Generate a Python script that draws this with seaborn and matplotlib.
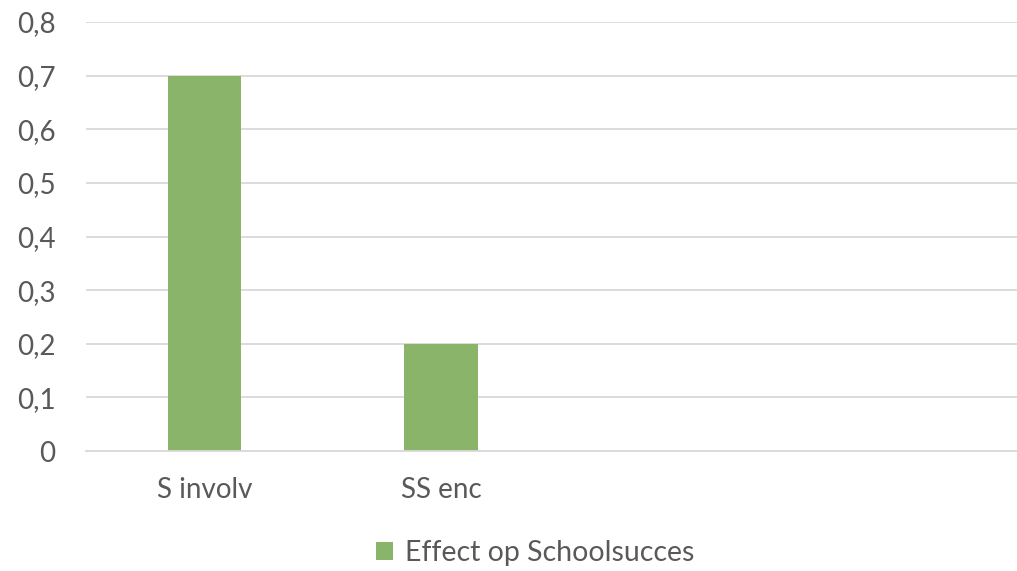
import pandas as pd
import matplotlib.pyplot as plt
import seaborn as sns

# Data
categories = ['S involv', 'SS enc']
slots = ['S involv', 'SS enc', 'slot3', 'slot4']  # two empty category slots
slot_labels = ['S involv', 'SS enc', '', '']
effect = [0.7, 0.2]
series_name = 'Effect op Schoolsucces'
y_ticks = [0, 0.1, 0.2, 0.3, 0.4, 0.5, 0.6, 0.7, 0.8]

df = pd.DataFrame({'category': categories, 'value': effect, 'series': series_name})

sns.set_style("white")
plt.rcParams['font.family'] = ['Lato', 'DejaVu Sans']

grey_text = '#595959'
grid_col = '#D9D9D9'
bar_col = '#8AB46A'

fig = plt.figure(figsize=(10.17, 5.71), dpi=100)
# plot area runs past the right edge like the cropped original
ax = fig.add_axes([86 / 1017, 120 / 571, 947 / 1017, 429 / 571])

sns.barplot(data=df, x='category', y='value', hue='series', order=slots,
            palette=[bar_col], saturation=1, width=0.31, linewidth=0,
            ax=ax, legend=True)

ax.set_ylim(0, 0.8)
ax.set_xlim(-0.5, 3.5)
ax.set_yticks(y_ticks)
ax.set_yticklabels([f"{t:g}".replace('.', ',') for t in y_ticks])
ax.set_xticks(range(len(slots)))
ax.set_xticklabels(slot_labels)
ax.set_xlabel('')
ax.set_ylabel('')

ax.yaxis.grid(True, color=grid_col, linewidth=1.3)
ax.set_axisbelow(True)
for side in ['top', 'right', 'left']:
    ax.spines[side].set_visible(False)
ax.spines['bottom'].set_color(grid_col)
ax.spines['bottom'].set_linewidth(1.3)
ax.tick_params(axis='both', length=0, labelsize=20, colors=grey_text)
ax.tick_params(axis='y', pad=22)
ax.tick_params(axis='x', pad=19)

ax.legend_.remove()
handles, labels = ax.get_legend_handles_labels()
fig.legend(handles, labels, loc='center', bbox_to_anchor=(535 / 1017, 1 - 553 / 571),
           frameon=False, fontsize=20.5, labelcolor=grey_text,
           handlelength=0.6, handleheight=0.6, handletextpad=0.4)

plt.savefig('out.png', dpi=100)
